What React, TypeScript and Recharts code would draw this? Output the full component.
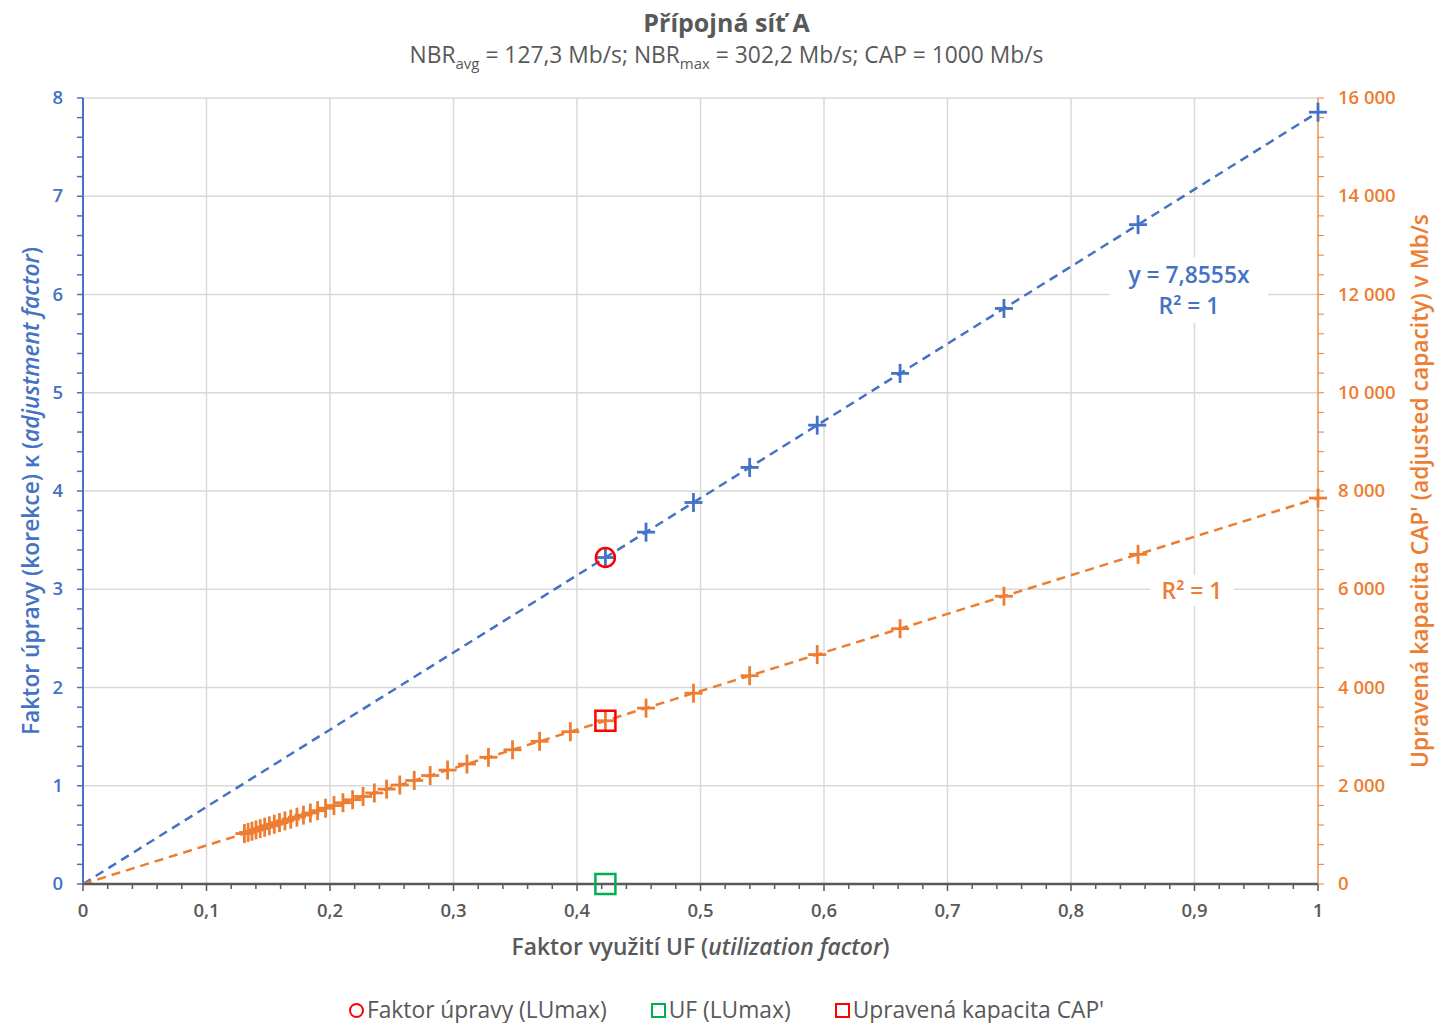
import React from "react";
import {
  ScatterChart,
  Scatter,
  XAxis,
  YAxis,
  CartesianGrid,
  ReferenceLine,
} from "recharts";

// utilization factor of each row
const UF = [
  1.0, 0.8543, 0.7457, 0.6616, 0.5945, 0.5398, 0.4943, 0.4559, 0.423, 0.3946,
  0.3697, 0.3478, 0.3283, 0.3109, 0.2952, 0.2811, 0.2682, 0.2565, 0.2458,
  0.2359, 0.2268, 0.2183, 0.2105, 0.2032, 0.1964, 0.19, 0.1841, 0.1785, 0.1732,
  0.1682, 0.1635, 0.1591, 0.1549, 0.1509, 0.1471, 0.1435, 0.1401, 0.1368,
  0.1337, 0.1307,
];
// adjusted capacity CAP' in Mb/s (right axis)
const CAP_ADJ = [
  7856, 6711, 5858, 5197, 4670, 4240, 3883, 3581, 3323, 3100, 2904, 2732, 2579,
  2442, 2319, 2208, 2107, 2015, 1931, 1853, 1782, 1715, 1654, 1596, 1543, 1493,
  1446, 1402, 1361, 1321, 1284, 1250, 1217, 1185, 1156, 1127, 1101, 1075, 1050,
  1027,
];
// adjustment factor kappa (left axis), only drawn down to LUmax
const UF_K = [1.0, 0.8543, 0.7457, 0.6616, 0.5945, 0.5398, 0.4943, 0.4559, 0.423];
const KAPPA = [7.8555, 6.711, 5.858, 5.197, 4.67, 4.24, 3.883, 3.581, 3.323];

const LUMAX_UF = 0.423;
const LUMAX_KAPPA = 3.323;
const LUMAX_CAP = 3323;

const TREND_K = 7.8555; // y = 7,8555x
const TREND_CAP = 7855.5;

const X_MAJOR = [0, 0.1, 0.2, 0.3, 0.4, 0.5, 0.6, 0.7, 0.8, 0.9, 1];
const X_LABELS = ["0", "0,1", "0,2", "0,3", "0,4", "0,5", "0,6", "0,7", "0,8", "0,9", "1"];
const K_MAJOR = [0, 1, 2, 3, 4, 5, 6, 7, 8];
const CAP_MAJOR = [0, 2000, 4000, 6000, 8000, 10000, 12000, 14000, 16000];
const CAP_LABELS = ["0", "2 000", "4 000", "6 000", "8 000", "10 000", "12 000", "14 000", "16 000"];

const FONT = "'Open Sans', Lato, sans-serif";
const GRAY = "#595959";
const BLUE = "#4472c4";
const ORANGE = "#ed7d31";
const RED = "#ff0000";
const GREEN = "#00b050";
const TICK_SIZE = 18.5;
const TITLE_SIZE = 22.8;

const round = (v: number) => Math.round(v * 1000) / 1000;
const xTicks = Array.from({ length: 51 }, (_, i) => round(i * 0.02));
const kTicks = Array.from({ length: 41 }, (_, i) => round(i * 0.2));
const capTicks = Array.from({ length: 41 }, (_, i) => i * 400);

const orangeData = UF.map((x, i) => ({ x, y: CAP_ADJ[i] }));
const blueData = UF_K.map((x, i) => ({ x, y: KAPPA[i] }));

function XTick({ x, y, payload }: any) {
  const idx = X_MAJOR.findIndex((m) => Math.abs(m - payload.value) < 1e-6);
  const major = idx >= 0;
  return (
    <g>
      <line x1={x} y1={y} x2={x} y2={y + (major ? 7 : 5)} stroke={GRAY} strokeWidth={1.5} />
      {major && (
        <text x={x} y={y + 33} textAnchor="middle" fill={GRAY} fontSize={TICK_SIZE} fontWeight={600} fontFamily={FONT}>
          {X_LABELS[idx]}
        </text>
      )}
    </g>
  );
}

function KTick({ x, y, payload }: any) {
  const idx = K_MAJOR.findIndex((m) => Math.abs(m - payload.value) < 1e-6);
  return (
    <g>
      <line x1={x} y1={y} x2={x - 6} y2={y} stroke={BLUE} strokeWidth={1.5} />
      {idx >= 0 && (
        <text x={x - 20} y={y} dy={6} textAnchor="end" fill={BLUE} fontSize={TICK_SIZE} fontWeight={600} fontFamily={FONT}>
          {K_MAJOR[idx]}
        </text>
      )}
    </g>
  );
}

function CapTick({ x, y, payload }: any) {
  const idx = CAP_MAJOR.indexOf(payload.value);
  return (
    <g>
      <line x1={x} y1={y} x2={x + 6} y2={y} stroke={ORANGE} strokeWidth={1} />
      {idx >= 0 && (
        <text x={x + 20} y={y} dy={6} textAnchor="start" fill={ORANGE} fontSize={TICK_SIZE} fontWeight={600} fontFamily={FONT}>
          {CAP_LABELS[idx]}
        </text>
      )}
    </g>
  );
}

const cross = (color: string) => (props: any) => {
  const { cx, cy } = props;
  return (
    <g stroke={color} strokeWidth={2.8}>
      <line x1={cx - 9} y1={cy} x2={cx + 9} y2={cy} />
      <line x1={cx} y1={cy - 9.5} x2={cx} y2={cy + 9.5} />
    </g>
  );
};

const ring = (props: any) => (
  <circle cx={props.cx} cy={props.cy} r={9.5} fill="none" stroke={RED} strokeWidth={2.5} />
);

const box = (color: string) => (props: any) => (
  <rect x={props.cx - 10} y={props.cy - 10} width={20} height={20} fill="none" stroke={color} strokeWidth={2.5} />
);

const xLabel = ({ viewBox }: any) => (
  <text
    x={viewBox.x + viewBox.width / 2}
    y={viewBox.y + 71}
    textAnchor="middle"
    fill={GRAY}
    fontSize={TITLE_SIZE}
    fontWeight={600}
    fontFamily={FONT}
  >
    <tspan>Faktor využití UF (</tspan>
    <tspan fontStyle="italic">utilization factor</tspan>
    <tspan>)</tspan>
  </text>
);

const kLabel = ({ viewBox }: any) => {
  const x = viewBox.x + 9;
  const y = viewBox.y + viewBox.height / 2;
  return (
    <text x={x} y={y} transform={`rotate(-90, ${x}, ${y})`} textAnchor="middle" fill={BLUE} fontSize={TITLE_SIZE} fontWeight={600} fontFamily={FONT}>
      <tspan>Faktor úpravy (korekce) κ (</tspan>
      <tspan fontStyle="italic">adjustment factor</tspan>
      <tspan>)</tspan>
    </text>
  );
};

const capLabel = ({ viewBox }: any) => {
  const x = viewBox.x + 110;
  const y = viewBox.y + viewBox.height / 2;
  return (
    <text x={x} y={y} transform={`rotate(-90, ${x}, ${y})`} textAnchor="middle" fill={ORANGE} fontSize={TITLE_SIZE} fontWeight={600} fontFamily={FONT}>
      Upravená kapacita CAP' (adjusted capacity) v Mb/s
    </text>
  );
};

const legendItems = [
  { label: "Faktor úpravy (LUmax)", color: RED, shape: "circle" },
  { label: "UF (LUmax)", color: GREEN, shape: "square" },
  { label: "Upravená kapacita CAP'", color: RED, shape: "square" },
];

export default function App() {
  return (
    <div style={{ position: "absolute", left: 0, top: 0, width: 1453, height: 1023, background: "#fff", fontFamily: FONT }}>
      <div style={{ position: "absolute", top: 5, width: "100%", textAlign: "center", color: GRAY, fontSize: 25, fontWeight: 700, lineHeight: "34px" }}>
        Přípojná síť A
      </div>
      <div style={{ position: "absolute", top: 40, width: "100%", textAlign: "center", color: GRAY, fontSize: 22.8, lineHeight: "30px" }}>
        NBR<sub style={{ fontSize: 15 }}>avg</sub> = 127,3 Mb/s; NBR<sub style={{ fontSize: 15 }}>max</sub> = 302,2 Mb/s; CAP = 1000 Mb/s
      </div>

      <ScatterChart width={1453} height={1023} margin={{ top: 98, right: 20, bottom: 64, left: 30 }}>
        <CartesianGrid
          yAxisId="k"
          stroke="#d9d9d9"
          strokeWidth={1.5}
          verticalValues={X_MAJOR}
          horizontalValues={K_MAJOR}
        />
        <XAxis
          type="number"
          dataKey="x"
          domain={[0, 1]}
          ticks={xTicks}
          interval={0}
          tick={<XTick />}
          tickLine={false}
          tickSize={0}
          tickMargin={0}
          height={75}
          axisLine={{ stroke: GRAY, strokeWidth: 2.5 }}
          label={{ content: xLabel }}
        />
        <YAxis
          yAxisId="k"
          type="number"
          dataKey="y"
          domain={[0, 8]}
          ticks={kTicks}
          interval={0}
          tick={<KTick />}
          tickLine={false}
          tickSize={0}
          tickMargin={0}
          width={53}
          axisLine={{ stroke: BLUE, strokeWidth: 2 }}
          label={{ content: kLabel }}
        />
        <YAxis
          yAxisId="cap"
          orientation="right"
          type="number"
          dataKey="y"
          domain={[0, 16000]}
          ticks={capTicks}
          interval={0}
          tick={<CapTick />}
          tickLine={false}
          tickSize={0}
          tickMargin={0}
          width={115}
          axisLine={{ stroke: ORANGE, strokeWidth: 1 }}
          label={{ content: capLabel }}
        />
        <ReferenceLine
          yAxisId="k"
          segment={[{ x: 0, y: 0 }, { x: 1, y: TREND_K }]}
          stroke={BLUE}
          strokeWidth={2.5}
          strokeDasharray="9 6"
        />
        <ReferenceLine
          yAxisId="cap"
          segment={[{ x: 0, y: 0 }, { x: 1, y: TREND_CAP }]}
          stroke={ORANGE}
          strokeWidth={2.5}
          strokeDasharray="9 6"
        />
        <Scatter yAxisId="cap" data={orangeData} shape={cross(ORANGE)} isAnimationActive={false} legendType="none" />
        <Scatter yAxisId="k" data={blueData} shape={cross(BLUE)} isAnimationActive={false} legendType="none" />
        <Scatter yAxisId="k" name="Faktor úpravy (LUmax)" data={[{ x: LUMAX_UF, y: LUMAX_KAPPA }]} shape={ring} isAnimationActive={false} />
        <Scatter yAxisId="k" name="UF (LUmax)" data={[{ x: LUMAX_UF, y: 0 }]} shape={box(GREEN)} isAnimationActive={false} />
        <Scatter yAxisId="cap" name="Upravená kapacita CAP'" data={[{ x: LUMAX_UF, y: LUMAX_CAP }]} shape={box(RED)} isAnimationActive={false} />
      </ScatterChart>

      {/* trendline labels */}
      <div style={{ position: "absolute", left: 1110, top: 257, width: 158, background: "#fff", color: BLUE, fontSize: 22.8, fontWeight: 600, lineHeight: "31px", textAlign: "center", padding: "2px 0" }}>
        y = 7,8555x
        <br />
        R² = 1
      </div>
      <div style={{ position: "absolute", left: 1150, top: 575, width: 84, background: "#fff", color: ORANGE, fontSize: 22.8, fontWeight: 600, lineHeight: "31px", textAlign: "center" }}>
        R² = 1
      </div>

      <div style={{ position: "absolute", top: 995, width: "100%", display: "flex", justifyContent: "center", gap: 44, color: GRAY, fontSize: 22.8, lineHeight: "30px" }}>
        {legendItems.map((it) => (
          <div key={it.label} style={{ display: "flex", alignItems: "center", gap: 3 }}>
            <span
              style={{
                display: "inline-block",
                width: 11,
                height: 11,
                border: `2.5px solid ${it.color}`,
                borderRadius: it.shape === "circle" ? "50%" : 0,
              }}
            />
            <span>{it.label}</span>
          </div>
        ))}
      </div>
    </div>
  );
}
